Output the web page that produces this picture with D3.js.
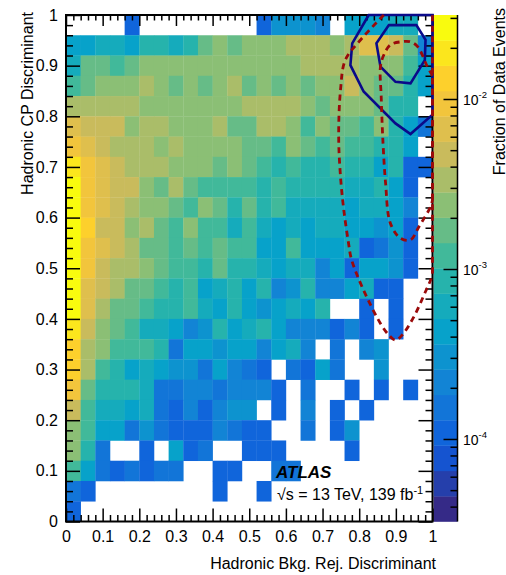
<!DOCTYPE html>
<html>
<head>
<meta charset="utf-8">
<script src="https://cdn.jsdelivr.net/npm/d3@7"></script>
<style>
body{margin:0;background:#fff}
text{font-family:"Liberation Sans",Arial,Helvetica,sans-serif}
</style>
</head>
<body>
<div id="hist2d"></div>
<script>
// bordes de los bins (25 x 25, iguales en x y en y)
var bordes=[0,0.04,0.08,0.12,0.16,0.2,0.24,0.28,0.32,0.36,0.4,0.44,0.48,0.52,0.56,0.6,0.64,0.68,0.72,0.76,0.8,0.84,0.88,0.92,0.96,1];
var ticksEje=[0,0.1,0.2,0.3,0.4,0.5,0.6,0.7,0.8,0.9,1];
var etiquetasEje=["0","0.1","0.2","0.3","0.4","0.5","0.6","0.7","0.8","0.9","1"];

// fraccion de eventos (en unidades de 1e-4); filas de arriba (y 0.96-1) hacia abajo (y 0-0.04); 0 = bin vacio
var fraccion=[
[0,0,0,0,1.1,0,0,0,0,0,0,0,0,1.1,3,3,3,2.2,0,4.3,4.3,4.3,6,6,0],
[4.3,4.3,6,6,4.3,8.5,8.5,6,8.5,17,24,17,24,24,24,34,34,34,24,34,67,67,47,17,2.2],
[6,17,17,12,17,24,24,24,24,24,24,24,24,24,24,24,34,34,34,34,24,24,24,12,4.3],
[12,17,24,24,24,34,24,17,24,17,24,34,17,24,17,24,17,24,24,47,24,17,17,8.5,4.3],
[34,34,34,34,34,24,24,24,24,24,24,24,34,34,34,34,24,17,24,24,24,17,8.5,8.5,0],
[67,47,47,47,24,34,34,24,24,24,34,17,17,34,34,24,12,24,17,17,12,24,8.5,4.3,1.5],
[94,67,47,34,34,34,24,34,24,24,24,24,17,17,12,24,17,12,17,12,12,8.5,8.5,4.3,0],
[187,94,67,47,34,34,34,24,24,24,17,24,17,12,8.5,12,8.5,8.5,12,8.5,8.5,4.3,8.5,1.1,1.1],
[263,94,67,47,47,24,17,34,17,12,12,12,12,8.5,12,8.5,8.5,8.5,8.5,6,6,8.5,4.3,1.1,0],
[263,94,67,47,34,24,24,17,12,24,17,8.5,17,8.5,12,6,6,6,6,4.3,6,6,4.3,2.2,0],
[263,133,47,47,24,34,17,12,24,12,12,6,12,6,4.3,6,4.3,6,6,4.3,4.3,3,4.3,1.1,0],
[263,94,67,47,34,17,17,12,17,12,17,12,12,4.3,4.3,12,4.3,4.3,4.3,6,1.1,1.5,3,1.1,0],
[263,94,47,34,34,24,17,12,12,8.5,17,8.5,8.5,6,4.3,6,6,2.2,4.3,1.1,4.3,4.3,3,1.1,0],
[263,67,47,34,17,17,12,8.5,12,4.3,6,8.5,4.3,8.5,2.2,3,8.5,2.2,2.2,4.3,6,1.1,1.1,0,0],
[263,67,34,17,17,12,8.5,8.5,12,6,4.3,8.5,4.3,3,4.3,6,4.3,8.5,0,0,1.1,0,1.1,0,0],
[187,47,24,17,12,6,6,4.3,2.2,3,8.5,4.3,6,8.5,4.3,2.2,2.2,2.2,1.1,2.2,1.1,0,1.1,0,0],
[133,34,24,12,12,12,8.5,1.5,4.3,4.3,3,4.3,4.3,2.2,4.3,6,2.2,0,1.5,0,2.2,3,0,0,0],
[133,34,12,8.5,4.3,6,4.3,3,3,1.5,4.3,2.2,1.5,1.1,0,1.5,1.1,4.3,1.5,0,0,3,0,0,0],
[94,17,8.5,8.5,8.5,6,1.5,1.5,2.2,2.2,1.5,2.2,2.2,2.2,1.1,0,1.5,0,0,1.1,0,1.1,0,1.1,0],
[47,12,6,6,4.3,6,1.5,1.1,2.2,1.1,2.2,3,3,0,1.1,0,2.2,0,1.1,0,1.1,0,0,0,0],
[24,12,4.3,4.3,1.5,3,1.5,1.1,1.1,1.1,2.2,1.5,1.1,1.1,0,0,1.5,0,1.1,3,0,0,0,0,0],
[24,8.5,1.5,0,0,1.1,0,4.3,1.1,1.5,0,0,1.1,1.1,1.1,0,0,0,0,1.1,0,0,0,0,0],
[12,4.3,1.5,1.1,1.5,1.1,1.5,1.5,0,0,1.1,1.1,0,0,1.5,1.5,0,0,0,0,0,0,0,0,0],
[1.5,1.1,0,0,0,0,0,0,0,0,1.1,0,0,1.1,0,0,0,0,0,0,0,0,0,0,0],
[1.1,0,0,0,0,0,0,0,0,0,0,0,0,0,0,0,0,0,0,0,0,0,0,0,0]
];

// rango del eje z y ticks de la barra de color
var zRango=[3.27e-5,0.0312];
var ticksColor=[1e-4,1e-3,1e-2];
var exponentesColor=["-4","-3","-2"];

// contornos (x,y)
var azulExt=[[0.826,1.0],[0.781,0.944],[0.776,0.901],[0.812,0.849],[0.899,0.786],[0.940,0.765],[1.0,0.803],[1.0,1.0]];
var azulInt=[[0.881,0.980],[0.956,0.980],[0.981,0.951],[0.979,0.911],[0.940,0.865],[0.899,0.868],[0.858,0.898],[0.847,0.944]];
var rojoExt=[[0.867,1.0],[0.799,0.947],[0.762,0.911],[0.749,0.852],[0.744,0.760],[0.749,0.681],[0.758,0.615],[0.771,0.549],[0.778,0.520],[0.794,0.487],[0.822,0.441],[0.858,0.391],[0.881,0.368],[0.899,0.358],[0.917,0.368],[0.949,0.404],[0.981,0.454],[0.995,0.477],[1.0,0.49]];
var rojoInt=[[1.0,0.88],[0.986,0.898],[0.960,0.937],[0.940,0.947],[0.913,0.947],[0.885,0.941],[0.867,0.921],[0.858,0.898],[0.860,0.839],[0.865,0.747],[0.872,0.668],[0.885,0.589],[0.913,0.559],[0.940,0.556],[0.963,0.582],[0.995,0.622],[1.0,0.635]];

hist2d();

function hist2d(){
	var ancho=506, alto=575;
	var svg=d3.select("#hist2d").append("svg")
		.attr("width",ancho).attr("height",alto);

	var escalaX=d3.scaleLinear().domain([0,1]).range([66,432.5]);
	var escalaY=d3.scaleLinear().domain([0,1]).range([521.5,15]);
	var escalaZ=d3.scaleLog().domain(zRango).range([521.5,15]);

	// paleta tipo kBird de ROOT, 20 niveles
	var stops=[0,0.125,0.25,0.375,0.5,0.625,0.75,0.875,1];
	var pr=[0.2082,0.0592,0.0780,0.0232,0.1802,0.5301,0.8186,0.9956,0.9764];
	var pg=[0.1664,0.3599,0.5041,0.6419,0.7178,0.7492,0.7328,0.7862,0.9832];
	var pb=[0.5293,0.8684,0.8385,0.7914,0.6425,0.4662,0.3499,0.1968,0.0539];
	var bird=d3.scaleLinear().domain(stops)
		.range(stops.map((s,i)=>d3.rgb(pr[i]*255,pg[i]*255,pb[i]*255)));
	var nNiveles=20;
	var nivel=d3.scaleQuantize()
		.domain([Math.log10(zRango[0]),Math.log10(zRango[1])])
		.range(d3.range(nNiveles));
	function colorDe(v){return bird(nivel(Math.log10(v))/(nNiveles-1))}

	// celdas
	var celdas=[];
	fraccion.forEach(function(fila,i){
		var iy=bordes.length-2-i;
		fila.forEach(function(v,ix){
			if(v>0) celdas.push({x0:bordes[ix],x1:bordes[ix+1],y0:bordes[iy],y1:bordes[iy+1],z:v*1e-4});
		});
	});
	svg.append("g").selectAll("rect")
		.data(celdas).enter().append("rect")
		.attr("x",d=>escalaX(d.x0))
		.attr("y",d=>escalaY(d.y1))
		.attr("width",d=>escalaX(d.x1)-escalaX(d.x0)+0.3)
		.attr("height",d=>escalaY(d.y0)-escalaY(d.y1)+0.3)
		.style("fill",d=>colorDe(d.z));

	// barra de color
	var paso=(Math.log10(zRango[1])-Math.log10(zRango[0]))/nNiveles;
	var bandas=d3.range(nNiveles).map(i=>({a:Math.pow(10,Math.log10(zRango[0])+i*paso),b:Math.pow(10,Math.log10(zRango[0])+(i+1)*paso),i:i}));
	svg.append("g").selectAll("rect")
		.data(bandas).enter().append("rect")
		.attr("x",433.5).attr("width",24)
		.attr("y",d=>escalaZ(d.b))
		.attr("height",d=>escalaZ(d.a)-escalaZ(d.b)+0.3)
		.style("fill",d=>bird(d.i/(nNiveles-1)));

	// ejes con ticks hacia adentro
	var menores=d3.range(0,51).map(d=>d/50).filter(d=>Math.round(d*50)%5!=0);
	function eje(gen,tr,valores,largo,fmt){
		var g=svg.append("g").attr("transform",tr)
			.call(gen.tickValues(valores).tickSize(-largo).tickFormat(fmt||""))
			.attr("font-size",16).attr("font-family","Liberation Sans, Arial, sans-serif");
		g.select(".domain").remove();
		g.selectAll("line").style("stroke","#000").style("stroke-width",1.5);
		g.selectAll("text").style("fill","#000");
		return g;
	}
	var fmtEje=d=>etiquetasEje[ticksEje.indexOf(d)];
	eje(d3.axisBottom(escalaX).tickPadding(9.5),"translate(0,521.5)",ticksEje,13,fmtEje);
	eje(d3.axisBottom(escalaX),"translate(0,521.5)",menores,6.5);
	eje(d3.axisTop(escalaX),"translate(0,15)",ticksEje,11);
	eje(d3.axisTop(escalaX),"translate(0,15)",menores,5.5);
	eje(d3.axisLeft(escalaY).tickPadding(8),"translate(66,0)",ticksEje,14,fmtEje);
	eje(d3.axisLeft(escalaY),"translate(66,0)",menores,7);
	eje(d3.axisRight(escalaY),"translate(432.5,0)",ticksEje,14);
	eje(d3.axisRight(escalaY),"translate(432.5,0)",menores,7);

	// eje de la barra de color
	var menoresZ=[];
	[-5,-4,-3,-2].forEach(function(e){
		for(var k=2;k<=9;k++){var v=k*Math.pow(10,e); if(v>zRango[0]&&v<zRango[1]) menoresZ.push(v);}
	});
	eje(d3.axisRight(escalaZ),"translate(457.5,0)",ticksColor,14);
	eje(d3.axisRight(escalaZ),"translate(457.5,0)",menoresZ,7);
	svg.append("line").attr("x1",457.5).attr("x2",457.5).attr("y1",15).attr("y2",521.5)
		.style("stroke","#000").style("stroke-width",1.5);
	var lab=svg.append("g").selectAll("text").data(ticksColor).enter().append("text")
		.attr("x",463).attr("y",d=>escalaZ(d)+6)
		.attr("font-size",14);
	lab.append("tspan").text("10");
	lab.append("tspan").attr("dy",-7).attr("font-size",9.5).text((d,i)=>exponentesColor[i]);

	// marco
	svg.append("rect").attr("x",66).attr("y",15)
		.attr("width",escalaX(1)-escalaX(0)).attr("height",escalaY(0)-escalaY(1))
		.style("fill","none").style("stroke","#000").style("stroke-width",2);

	// contornos
	var lineaCerrada=d3.line().x(d=>escalaX(d[0])).y(d=>escalaY(d[1])).curve(d3.curveLinearClosed);
	var lineaSuave=d3.line().x(d=>escalaX(d[0])).y(d=>escalaY(d[1])).curve(d3.curveCatmullRom);
	var lineaRecta=d3.line().x(d=>escalaX(d[0])).y(d=>escalaY(d[1]));
	svg.append("path").attr("d",lineaCerrada(azulExt))
		.style("fill","none").style("stroke","#0a0a8a").style("stroke-width",2.6);
	svg.append("path").attr("d",lineaCerrada(azulInt))
		.style("fill","none").style("stroke","#0a0a8a").style("stroke-width",2.6);
	var rojo=svg.append("g").style("fill","none").style("stroke","#9a0a0a")
		.style("stroke-width",2.8).style("stroke-dasharray","6,4.5");
	rojo.append("path").attr("d",lineaSuave(rojoExt));
	rojo.append("path").attr("d",lineaRecta([[1.0,0.49],[1.0,1.0]]));
	rojo.append("path").attr("d",lineaSuave(rojoInt));
	rojo.append("path").attr("d",lineaRecta([[1.0,0.635],[1.0,0.88]]));

	// titulos
	svg.append("text").attr("x",436).attr("y",569).attr("text-anchor","end")
		.attr("font-size",16).text("Hadronic Bkg. Rej. Discriminant");
	svg.append("text").attr("transform","translate(33,12) rotate(-90)").attr("text-anchor","end")
		.attr("font-size",16).text("Hadronic CP Discriminant");
	svg.append("text").attr("transform","translate(504.5,8) rotate(-90)").attr("text-anchor","end")
		.attr("font-size",16).text("Fraction of Data Events");

	// etiqueta ATLAS
	svg.append("text").attr("x",276).attr("y",478)
		.attr("font-size",17).attr("font-weight","bold").attr("font-style","italic").text("ATLAS");
	var t=svg.append("text").attr("x",277).attr("y",500).attr("font-size",16);
	t.append("tspan").text("\u221As = 13 TeV, 139 fb");
	t.append("tspan").attr("dy",-6).attr("font-size",11).text("-1");
}
</script>
</body>
</html>
